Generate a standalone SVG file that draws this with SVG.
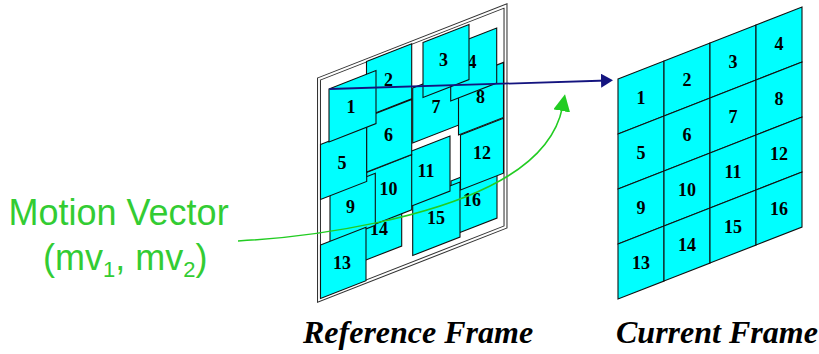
<svg xmlns="http://www.w3.org/2000/svg" width="819" height="354" viewBox="0 0 819 354">
<style>
.blk{fill:#00ffff;stroke:#111;stroke-width:1.1;stroke-linejoin:miter}
.num{font-family:"Liberation Serif","Times New Roman",serif;font-weight:bold;font-size:18px;fill:#000;text-anchor:middle}
.title{font-family:"Liberation Serif","Times New Roman",serif;font-weight:bold;font-style:italic;font-size:32px;fill:#000}
.mv{font-family:"Liberation Sans",Arial,sans-serif;font-size:36px;fill:#33cc33}
</style>
<defs>
<marker id="ah-blue" markerUnits="userSpaceOnUse" markerWidth="14" markerHeight="16" refX="6" refY="7" orient="auto">
<path d="M0,0 L12,7 L0,14 Z" fill="#14147f"/>
</marker>
<marker id="ah-green" markerUnits="userSpaceOnUse" markerWidth="18" markerHeight="18" refX="4" refY="8.5" orient="auto">
<path d="M0,0 L17,8.5 L0,17 Z" fill="#22cc22"/>
</marker>
</defs>
<rect width="819" height="354" fill="#fff"/>

<g id="reference-frame">
<polygon points="319,79 505.5,6 505.5,227 319,300" fill="#fff" stroke="#333" stroke-width="4"/>
<polygon points="319,79 505.5,6 505.5,227 319,300" fill="none" stroke="#fff" stroke-width="1.9"/>
<g id="ref-16"><polygon class="blk" points="451,181 497,163 497,218 451,236"/><text class="num" x="472" y="206">16</text></g>
<g id="ref-15"><polygon class="blk" points="412.7,200.5 460,182 460,237 412.7,255.5"/><text class="num" x="436" y="223.5">15</text></g>
<g id="ref-11"><polygon class="blk" points="404,154 450,136 450,191 404,209"/><text class="num" x="426" y="176.7">11</text></g>
<g id="ref-14"><polygon class="blk" points="355.7,209 401.7,191 401.7,246 355.7,264"/><text class="num" x="379" y="234.5">14</text></g>
<g id="ref-10"><polygon class="blk" points="366.5,172.5 411.7,154.8 411.7,209.8 366.5,227.5"/><text class="num" x="388.5" y="195.3">10</text></g>
<g id="ref-9"><polygon class="blk" points="330,191 375.3,173.3 375.3,225.3 330,243"/><text class="num" x="350.5" y="212.7">9</text></g>
<g id="ref-13"><polygon class="blk" points="320.5,245 366,227.2 366,280.7 320.5,298.5"/><text class="num" x="342" y="269.3">13</text></g>
<g id="ref-5"><polygon class="blk" points="320.5,144.5 366.7,126.4 366.7,181.4 320.5,199.5"/><text class="num" x="342" y="169.3">5</text></g>
<g id="ref-2"><polygon class="blk" points="366.5,61.5 411.7,43.8 411.7,98.8 366.5,116.5"/><text class="num" x="388.5" y="86">2</text></g>
<g id="ref-6"><polygon class="blk" points="366.7,117 411.7,99.4 411.7,154.4 366.7,172"/><text class="num" x="388.5" y="141.3">6</text></g>
<g id="ref-1"><polygon class="blk" points="329,89 376,70.6 376,123.6 329,142"/><text class="num" x="351" y="113">1</text></g>
<g id="ref-12"><polygon class="blk" points="460.5,135 503.5,118.2 503.5,173.2 460.5,190"/><text class="num" x="482" y="159.3">12</text></g>
<g id="ref-7"><polygon class="blk" points="412.7,88 459,69.9 459,124.9 412.7,143"/><text class="num" x="436" y="112.7">7</text></g>
<g id="ref-8"><polygon class="blk" points="458.5,80 503.5,62.4 503.5,117.4 458.5,135"/><text class="num" x="480.5" y="102.7">8</text></g>
<g id="ref-4"><polygon class="blk" points="450.7,46 496.7,28 496.7,83 450.7,101"/><text class="num" x="472" y="67.5">4</text></g>
<g id="ref-3"><polygon class="blk" points="423,42.5 469,24.5 469,79.5 423,97.5"/><text class="num" x="443.5" y="66">3</text></g>
</g>

<g id="current-frame">
<g id="cur-1"><polygon class="blk" points="618,79 664,61 664,116 618,134"/><text class="num" x="641" y="103.5">1</text></g>
<g id="cur-2"><polygon class="blk" points="664,61 710,43 710,98 664,116"/><text class="num" x="687" y="85.5">2</text></g>
<g id="cur-3"><polygon class="blk" points="710,43 756,25 756,80 710,98"/><text class="num" x="733" y="67.5">3</text></g>
<g id="cur-4"><polygon class="blk" points="756,25 802,7 802,62 756,80"/><text class="num" x="779" y="49.5">4</text></g>
<g id="cur-5"><polygon class="blk" points="618,134 664,116 664,171 618,189"/><text class="num" x="641" y="158.5">5</text></g>
<g id="cur-6"><polygon class="blk" points="664,116 710,98 710,153 664,171"/><text class="num" x="687" y="140.5">6</text></g>
<g id="cur-7"><polygon class="blk" points="710,98 756,80 756,135 710,153"/><text class="num" x="733" y="122.5">7</text></g>
<g id="cur-8"><polygon class="blk" points="756,80 802,62 802,117 756,135"/><text class="num" x="779" y="104.5">8</text></g>
<g id="cur-9"><polygon class="blk" points="618,189 664,171 664,226 618,244"/><text class="num" x="641" y="213.5">9</text></g>
<g id="cur-10"><polygon class="blk" points="664,171 710,153 710,208 664,226"/><text class="num" x="687" y="195.5">10</text></g>
<g id="cur-11"><polygon class="blk" points="710,153 756,135 756,190 710,208"/><text class="num" x="733" y="177.5">11</text></g>
<g id="cur-12"><polygon class="blk" points="756,135 802,117 802,172 756,190"/><text class="num" x="779" y="159.5">12</text></g>
<g id="cur-13"><polygon class="blk" points="618,244 664,226 664,281 618,299"/><text class="num" x="641" y="268.5">13</text></g>
<g id="cur-14"><polygon class="blk" points="664,226 710,208 710,263 664,281"/><text class="num" x="687" y="250.5">14</text></g>
<g id="cur-15"><polygon class="blk" points="710,208 756,190 756,245 710,263"/><text class="num" x="733" y="232.5">15</text></g>
<g id="cur-16"><polygon class="blk" points="756,190 802,172 802,227 756,245"/><text class="num" x="779" y="214.5">16</text></g>
</g>

<g id="connectors">
<line x1="329.5" y1="89" x2="607" y2="80.5" stroke="#14147f" stroke-width="1.8" marker-end="url(#ah-blue)"/>
<path d="M238,241 C330,236 430,216 490,186 C530,166 556,140 562.5,107" fill="none" stroke="#22cc22" stroke-width="1.5" marker-end="url(#ah-green)"/>
</g>

<g id="motion-vector-label">
<text class="mv" x="8.5" y="225">Motion Vector</text>
<text class="mv" x="43" y="270">(mv<tspan font-size="22" dy="7">1</tspan><tspan dy="-7">, mv</tspan><tspan font-size="22" dy="7">2</tspan><tspan dy="-7">)</tspan></text>
</g>

<text class="title" x="303" y="343">Reference Frame</text>
<text class="title" x="616" y="343" font-size="31.5">Current Frame</text>
</svg>
